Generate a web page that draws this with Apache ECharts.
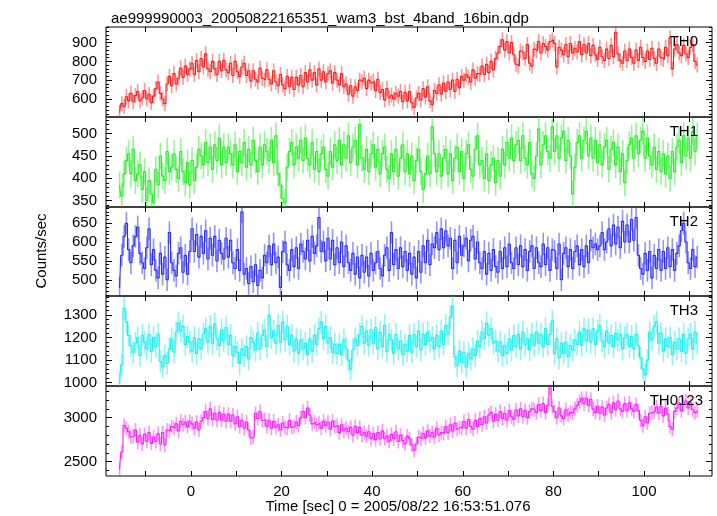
<!DOCTYPE html>
<html><head><meta charset="utf-8">
<script src="https://cdn.jsdelivr.net/npm/echarts@6/dist/echarts.min.js"></script>
<style>html,body{margin:0;padding:0;background:#fff}#c{width:717px;height:516px}</style>
</head><body><div id="c"></div>
<script>
// time bins: 0.5 s bins, first bin centre at -15.75 s
const binStart = -15.75;
const binWidth = 0.5;

const th0 = [
528,575,560,612,590,630,585,618,640,590,605,645,600,625,580,615,
655,690,630,600,575,680,720,670,735,680,710,765,715,775,730,760,
790,730,805,745,815,770,840,760,745,800,760,730,800,750,805,755,
740,790,725,800,745,720,770,790,725,750,695,750,705,690,765,710,
700,755,705,680,750,690,670,730,675,655,720,665,715,650,715,675,
725,665,740,690,755,700,740,675,760,700,745,690,735,750,685,740,
700,675,735,665,680,625,670,615,665,645,700,690,710,655,700,685,
695,645,705,635,650,595,655,605,620,600,630,615,640,585,635,590,
640,580,555,605,630,595,655,610,665,590,570,645,630,675,625,685,
640,690,650,700,640,705,660,720,700,730,715,690,755,710,735,730,
775,730,785,740,800,755,815,845,880,915,860,905,845,900,835,785,
775,855,845,815,890,790,775,865,855,905,845,895,880,860,905,915,
895,770,875,860,835,890,825,895,845,870,850,905,835,890,845,895,
830,885,835,810,875,825,805,865,815,885,825,955,840,805,790,855,
805,865,820,790,860,805,875,820,800,855,810,870,815,790,865,820,
810,875,830,925,760,865,890,845,830,885,840,820,875,890,800,780];

const th1 = [
385,360,410,440,455,410,465,395,410,430,375,415,350,395,365,345,
420,385,450,405,395,460,415,425,455,420,400,460,415,390,435,385,
440,395,425,465,450,430,480,435,470,420,475,440,490,430,470,435,
470,455,430,475,415,460,435,480,425,465,430,485,440,415,470,430,
475,460,440,485,435,495,410,385,355,345,425,460,480,430,470,445,
485,440,490,445,430,480,420,460,415,455,470,420,405,460,425,475,
440,485,430,475,445,495,435,470,485,430,520,445,420,465,415,455,
475,425,465,410,455,470,420,400,455,415,465,405,445,475,415,455,
410,450,395,440,465,415,375,410,450,410,515,455,415,455,405,445,
465,410,455,395,445,470,415,460,400,455,475,420,405,465,495,430,
440,400,455,395,430,445,390,440,405,465,430,480,445,490,440,475,
485,440,495,445,430,480,410,400,450,510,430,475,495,460,445,515,
460,495,445,490,505,440,485,450,365,425,480,495,445,485,505,450,
490,445,485,435,475,430,470,485,420,465,480,430,470,415,455,390,
440,475,490,445,495,455,485,505,445,490,450,430,470,420,460,415,
455,410,450,400,460,415,470,485,435,495,450,490,445,505,460,495];

const th2 = [
478,565,615,650,580,545,590,615,640,570,545,530,585,635,540,580,
525,505,570,515,560,500,625,545,525,510,570,585,520,565,515,575,
635,575,620,560,615,570,630,555,610,565,615,550,605,570,555,610,
560,605,545,530,580,525,680,515,530,490,535,495,540,485,525,505,
565,545,590,540,595,545,560,480,575,600,540,525,580,535,585,530,
595,575,555,605,550,615,570,590,665,575,600,550,610,555,605,540,
585,545,600,535,590,545,525,570,515,560,505,565,520,560,510,570,
525,545,575,530,510,565,585,525,625,540,580,530,585,535,575,525,
570,515,560,505,575,520,590,545,605,540,595,585,625,580,635,585,
630,590,610,530,605,545,615,565,590,610,550,605,615,555,600,545,
530,575,515,570,525,580,535,520,575,530,585,535,595,545,530,585,
540,590,535,580,525,575,590,530,585,545,535,595,540,585,525,580,
575,530,595,500,570,585,535,580,530,575,590,540,580,535,590,545,
605,585,595,580,590,625,580,600,635,590,645,595,640,585,655,600,
645,600,660,605,665,565,530,515,570,525,575,505,565,530,580,525,
575,530,585,535,580,525,570,590,630,650,600,545,530,580,535,560];

const th3 = [
995,1080,1330,1270,1210,1165,1135,1175,1200,1120,1210,1180,1150,1215,1140,1200,
1160,1215,1095,1070,1120,1085,1150,1195,1135,1225,1265,1230,1250,1170,1205,1180,
1140,1200,1130,1195,1150,1215,1240,1180,1250,1175,1260,1195,1165,1235,1185,1245,
1170,1210,1120,1160,1135,1085,1150,1120,1160,1105,1200,1180,1145,1220,1150,1210,
1235,1160,1300,1200,1230,1175,1255,1180,1270,1190,1250,1170,1210,1140,1195,1130,
1190,1150,1175,1125,1195,1140,1210,1170,1240,1270,1195,1250,1175,1200,1135,1170,
1130,1170,1125,1190,1155,1100,1060,1145,1195,1165,1215,1250,1175,1230,1165,1235,
1175,1245,1150,1225,1160,1255,1140,1215,1190,1130,1215,1150,1185,1125,1170,1140,
1210,1135,1215,1160,1230,1145,1215,1170,1225,1185,1200,1150,1210,1160,1230,1170,
1255,1215,1290,1340,1115,1075,1140,1090,1135,1070,1130,1105,1150,1120,1185,1160,
1225,1195,1265,1210,1240,1175,1185,1140,1180,1120,1165,1130,1195,1145,1210,1160,
1215,1150,1225,1170,1195,1145,1215,1165,1225,1175,1215,1160,1240,1170,1215,1275,
1130,1195,1110,1175,1130,1180,1115,1165,1145,1190,1170,1225,1165,1240,1185,1235,
1180,1240,1170,1230,1255,1185,1160,1230,1175,1210,1160,1220,1190,1215,1150,1200,
1215,1160,1205,1150,1215,1165,1110,1060,1035,1100,1225,1190,1250,1270,1175,1220,
1140,1195,1160,1200,1125,1180,1150,1195,1140,1215,1130,1195,1215,1150,1225,1175];

const th0123 = [
2410,2610,2910,2880,2840,2780,2790,2860,2720,2800,2700,2810,2730,2830,2710,2780,
2730,2820,2700,2830,2690,2860,2850,2900,2880,2930,2850,2960,2920,2950,2900,2960,
2930,2880,2950,2860,2960,3000,3070,2990,3100,2980,3050,2970,3060,2970,3040,2960,
3040,2960,3030,2930,3010,2900,2970,2880,2950,2860,2770,2780,3050,2990,3070,2970,
2980,2900,2970,2880,2960,2890,2920,2860,2940,2890,2880,2970,2890,2900,2950,2910,
3000,3070,3000,3110,3030,2930,2950,2920,2940,2880,2960,2910,2950,2870,2960,2900,
2910,2830,2920,2850,2880,2840,2890,2800,2900,2830,2890,2800,2830,2790,2840,2760,
2820,2750,2830,2760,2850,2760,2790,2730,2810,2760,2840,2730,2800,2740,2700,2790,
2760,2690,2630,2700,2780,2760,2820,2770,2850,2790,2830,2780,2880,2800,2830,2820,
2900,2830,2920,2850,2940,2870,2890,2880,2960,2880,2980,2900,2870,2970,2900,2990,
2920,3010,2940,3030,3060,2960,3040,2970,3070,2990,3050,2970,3080,3010,2980,3090,
3020,3100,3010,3080,3000,3070,3100,3090,3060,3150,3080,3160,3060,3140,3340,3130,
3070,3000,3110,3020,2990,3090,3030,3060,3050,3100,3140,3180,3220,3160,3220,3140,
3210,3100,3060,3130,3050,3120,3030,3110,3150,3060,3170,3090,3190,3100,3070,3160,
3080,3170,3100,3070,3150,3080,2970,2910,3010,2940,3050,3060,3070,3120,3050,3130,
3020,3110,3040,2900,2870,3070,3110,3170,3080,3150,3190,3110,3170,3090,3060,3080];

const panelNames = ['TH0', 'TH1', 'TH2', 'TH3', 'TH0123'];
const panelData = [th0, th1, th2, th3, th0123];
const errHalf = [40, 30, 30, 50, 80];
const yMin = [504, 336, 457, 985, 2337];
const yMax = [983, 537, 693, 1385, 3360];
const yMajorTicks = [[600, 700, 800, 900], [350, 400, 450, 500], [500, 550, 600, 650], [1000, 1100, 1200, 1300], [2500, 3000]];
const yMinorStep = [20, 10, 10, 20, 100];
const xLabelValues = [0, 20, 40, 60, 80, 100];
const xTickValues = [-10, 0, 10, 20, 30, 40, 50, 60, 70, 80, 90, 100, 110];
const xMin = -18.75, xMax = 115;

const colors = ['#ff1a1a', '#22ee22', '#2a2aff', '#1ef0f0', '#ff1aff'];
const lightColors = ['rgba(255,40,40,0.5)', 'rgba(40,235,40,0.5)', 'rgba(40,40,255,0.5)', 'rgba(30,235,235,0.5)', 'rgba(255,40,255,0.5)'];

const gridTops = [27, 117, 207, 296, 386];
const gridHeights = [90, 90, 89, 90, 90];
const FONT = "'Liberation Sans', Arial, Helvetica, sans-serif";

function minorValues(i) {
  const out = [];
  const s = yMinorStep[i];
  for (let v = Math.ceil(yMin[i] / s) * s; v <= yMax[i]; v += s) out.push(v);
  return out;
}

function makeErrRender(light) {
  return function (params, api) {
    const t = api.value(0), v = api.value(1), e = api.value(2);
    const cs = params.coordSys;
    const top = cs.y, bot = cs.y + cs.height;
    const cl = y => Math.max(top, Math.min(bot, y));
    const p1 = api.coord([t, v + e]);
    const p2 = api.coord([t, v - e]);
    return {
      type: 'line',
      shape: { x1: p1[0], y1: cl(p1[1]), x2: p2[0], y2: cl(p2[1]) },
      style: { stroke: light, lineWidth: 1.6 }
    };
  };
}

const grids = [], xAxes = [], yAxes = [], series = [], titles = [];
titles.push({
  text: 'ae999990003_20050822165351_wam3_bst_4band_16bin.qdp',
  left: 106, top: 6,
  textStyle: { fontFamily: FONT, fontSize: 15, fontWeight: 'normal', color: '#000' }
});

for (let i = 0; i < 5; i++) {
  grids.push({ left: 106, width: 606, top: gridTops[i], height: gridHeights[i], show: true, borderColor: '#000', borderWidth: 1, backgroundColor: 'transparent' });
  const xBase = {
    gridIndex: i, type: 'value', min: xMin, max: xMax,
    axisLine: { show: false, onZero: false }, splitLine: { show: false },
    axisTick: { show: true, inside: true, length: 5, customValues: xTickValues, lineStyle: { color: '#000', width: 1 } }
  };
  xAxes.push(Object.assign({}, xBase, {
    position: 'bottom',
    axisLabel: { show: i === 4, customValues: xLabelValues, margin: 8, fontSize: 15, color: '#000', fontFamily: FONT, formatter: v => String(v) }
  }));
  xAxes.push(Object.assign({}, xBase, { position: 'top', axisLabel: { show: false } }));

  const yBase = {
    gridIndex: i, type: 'value', min: yMin[i], max: yMax[i],
    axisLine: { show: false, onZero: false }, splitLine: { show: false }
  };
  yAxes.push(Object.assign({}, yBase, {
    position: 'left',
    axisTick: { show: true, inside: true, length: 6, customValues: yMajorTicks[i], lineStyle: { color: '#000' } },
    axisLabel: { show: true, customValues: yMajorTicks[i], margin: 9, fontSize: 15, color: '#000', fontFamily: FONT, formatter: v => String(v) }
  }));
  yAxes.push(Object.assign({}, yBase, {
    position: 'right',
    axisTick: { show: true, inside: true, length: 6, customValues: yMajorTicks[i], lineStyle: { color: '#000' } },
    axisLabel: { show: false }
  }));
  yAxes.push(Object.assign({}, yBase, {
    position: 'left',
    axisTick: { show: true, inside: true, length: 3, customValues: minorValues(i), lineStyle: { color: '#000' } },
    axisLabel: { show: false }
  }));
  yAxes.push(Object.assign({}, yBase, {
    position: 'right',
    axisTick: { show: true, inside: true, length: 3, customValues: minorValues(i), lineStyle: { color: '#000' } },
    axisLabel: { show: false }
  }));

  const pts = panelData[i].map((v, k) => [binStart + k * binWidth, v, errHalf[i]]);
  series.push({
    type: 'custom',
    name: panelNames[i] + ' err',
    xAxisIndex: i * 2,
    yAxisIndex: i * 4,
    renderItem: makeErrRender(lightColors[i]),
    encode: { x: 0, y: 1 },
    data: pts,
    silent: true,
    z: 2
  });
  series.push({
    type: 'line',
    name: panelNames[i],
    xAxisIndex: i * 2,
    yAxisIndex: i * 4,
    step: 'middle',
    showSymbol: false,
    symbol: 'none',
    data: pts.map(p => [p[0], p[1]]),
    lineStyle: { color: colors[i], width: 1.1 },
    itemStyle: { color: colors[i] },
    silent: true,
    clip: true,
    z: 3
  });

  titles.push({
    text: panelNames[i],
    right: i === 4 ? 9 : 14,
    top: gridTops[i] + 2,
    textStyle: { fontFamily: FONT, fontSize: 15, fontWeight: 'normal', color: '#000' }
  });
}

const chart = echarts.init(document.getElementById('c'), null, { renderer: 'canvas' });
chart.setOption({
  animation: false,
  backgroundColor: '#fff',
  title: titles,
  grid: grids,
  xAxis: xAxes,
  yAxis: yAxes,
  series: series,
  graphic: [
    { type: 'text', x: 42, y: 251, rotation: Math.PI / 2,
      style: { text: 'Counts/sec', fontFamily: FONT, fontSize: 15, fill: '#000', textAlign: 'center', textVerticalAlign: 'middle' } },
    { type: 'text', x: 398, y: 507,
      style: { text: 'Time [sec] 0 = 2005/08/22 16:53:51.076', fontFamily: FONT, fontSize: 15, fill: '#000', textAlign: 'center', textVerticalAlign: 'middle' } }
  ]
});
</script>
</body></html>
